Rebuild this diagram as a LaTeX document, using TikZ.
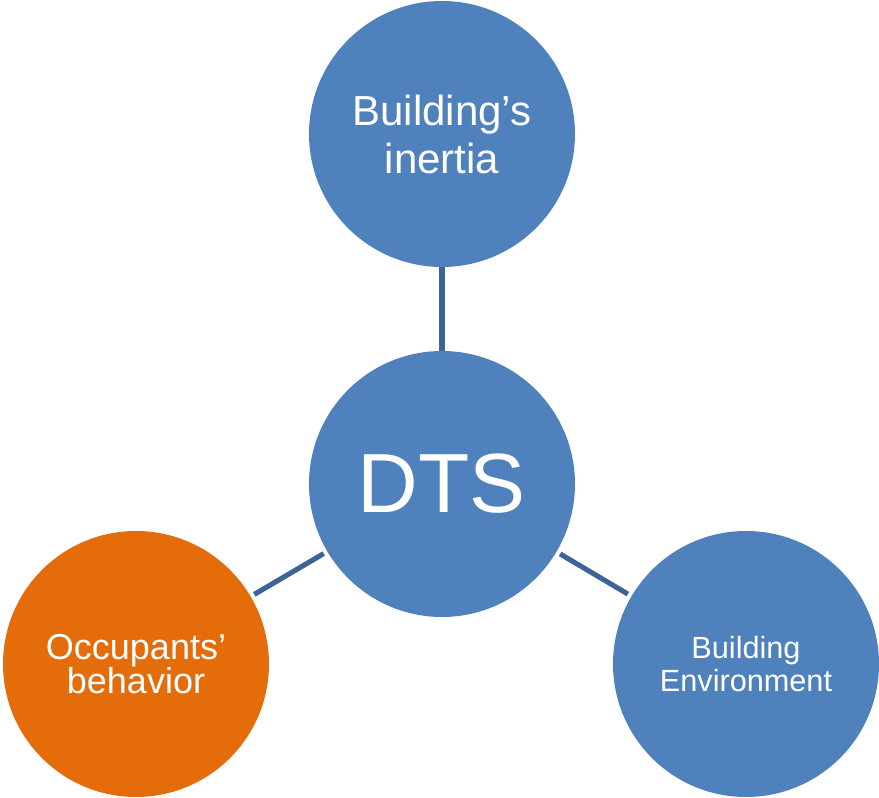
\documentclass[tikz,border=0pt]{standalone}
\usepackage{fontspec}
\setmainfont{Liberation Sans}
\definecolor{dtsblue}{HTML}{4F81BD}
\definecolor{dtsorange}{HTML}{E46C0A}
\definecolor{linkblue}{HTML}{3C6497}
\begin{document}
\begin{tikzpicture}[main/.style = {circle, fill=dtsblue, text=white, minimum size=199.5pt, inner sep=0pt, align=center}, link/.style = {draw=linkblue, line width=3.8pt}, node distance={262.5pt}]
        \useasboundingbox (-331.5pt,-235.5pt) rectangle (327.75pt,363pt);
        \node[main, font=\fontsize{63}{75}\selectfont] (1) {DTS};
        \node[main, font=\fontsize{31.5}{36}\selectfont] (2) [above of=1] {Building’s\\inertia};
        \node[main, fill=dtsorange, font=\fontsize{27}{26}\selectfont] (3) at (-229.5pt,-135pt) {Occupants’\\behavior};
        \node[main, font=\fontsize{23}{25}\selectfont] (4) at (228pt,-135pt) {Building\\Environment};
        \draw[link] (1) -- (2);
        \draw[link, shorten <=3pt, shorten >=3pt] (1) -- (3);
        \draw[link, shorten <=3pt, shorten >=3pt] (1) -- (4);
\end{tikzpicture}
\end{document}
